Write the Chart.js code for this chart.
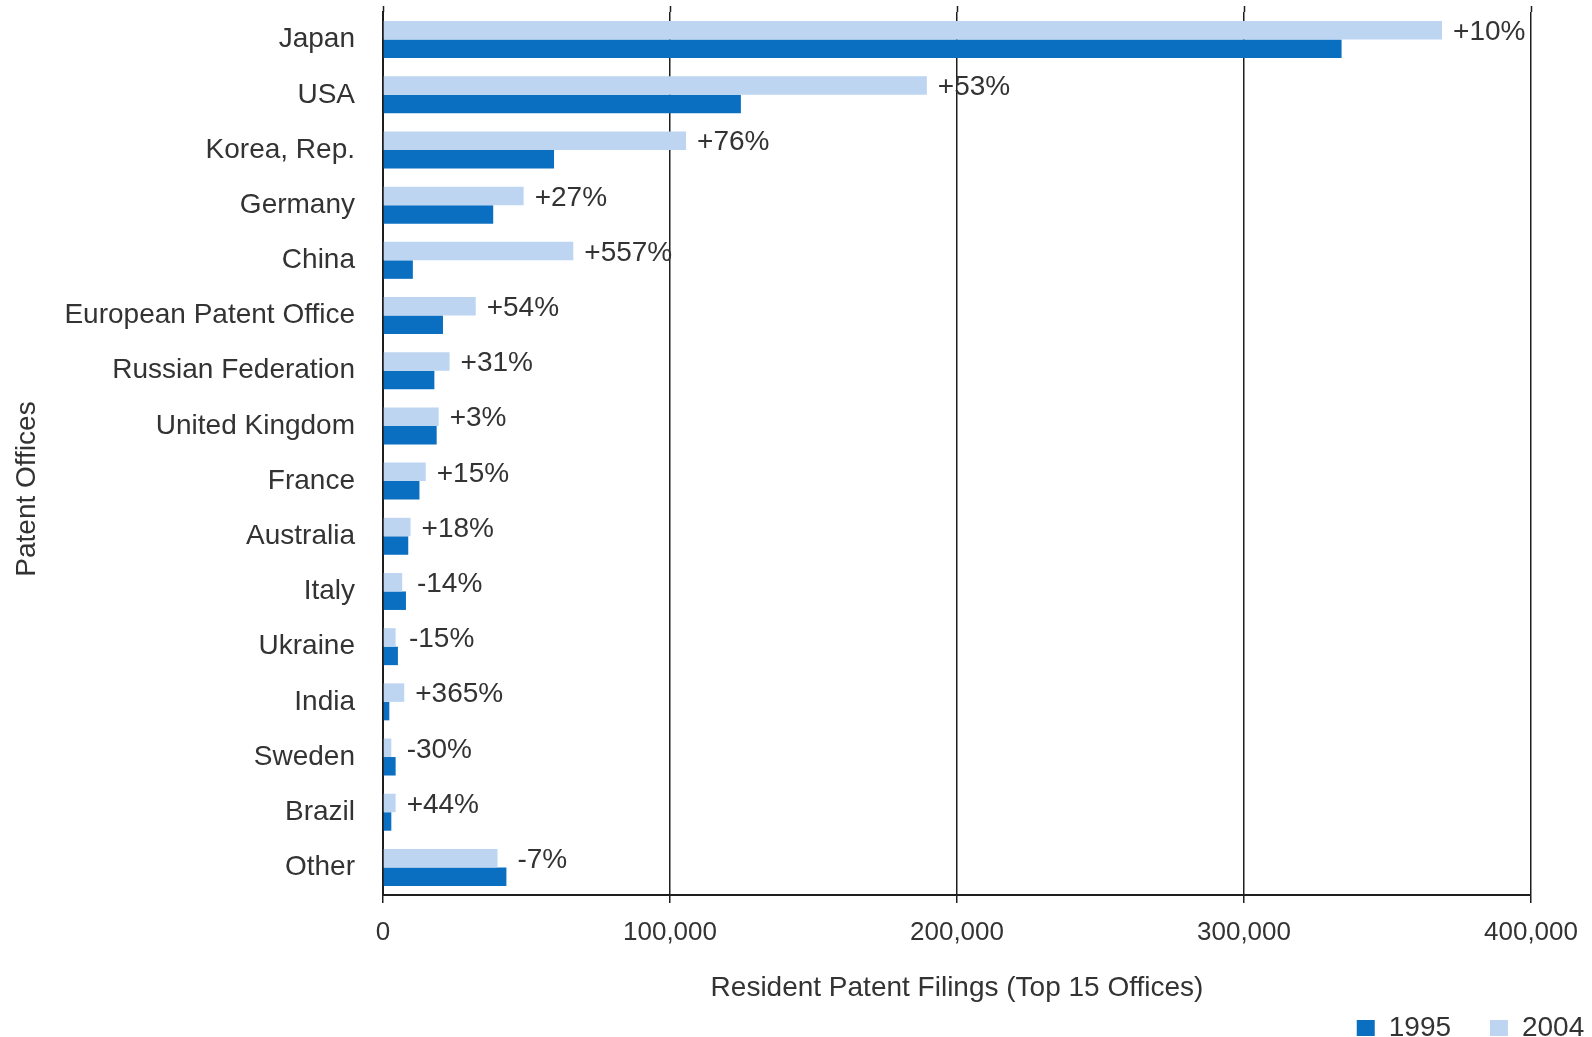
<!DOCTYPE html>
<html lang="en">
<head>
  <meta charset="UTF-8" />
  <title>Resident Patent Filings</title>
  <script src="https://cdn.jsdelivr.net/npm/chart.js"></script>
  <style>
    html, body {
      margin: 0;
      padding: 0;
      background: #ffffff;
    }

    .chart-box {
      width: 1592px;
      height: 1037px;
    }
  </style>
</head>
<body>
  <div class="chart-box">
    <canvas id="patentChart"></canvas>
  </div>

  <script>
    const offices = [
      "Japan", "USA", "Korea, Rep.", "Germany", "China", "European Patent Office",
      "Russian Federation", "United Kingdom", "France", "Australia", "Italy",
      "Ukraine", "India", "Sweden", "Brazil", "Other"
    ];
    const filings2004 = [369000, 189500, 105600, 49000, 66300, 32300, 23200, 19400, 14900, 9600, 6700, 4400, 7400, 2900, 4400, 39900];
    const filings1995 = [334000, 124700, 59600, 38400, 10400, 20900, 17900, 18700, 12700, 8800, 8000, 5200, 2200, 4400, 2900, 43000];
    const changeLabels = ["+10%", "+53%", "+76%", "+27%", "+557%", "+54%", "+31%", "+3%", "+15%", "+18%", "-14%", "-15%", "+365%", "-30%", "+44%", "-7%"];
    const xTicks = [0, 100000, 200000, 300000, 400000];

    const textColor = "#333333";
    const lineColor = "#1e1e1e";
    const fontFamily = "'Liberation Sans', Arial, sans-serif";
    Chart.defaults.font.family = fontFamily;
    Chart.defaults.font.size = 28;
    Chart.defaults.color = textColor;

    // percent change next to each pair of bars, plus y title and grid stubs
    const extrasPlugin = {
      id: "extras",
      afterDatasetsDraw(chart) {
        const ctx = chart.ctx;
        const xs = chart.scales.x;
        const meta = chart.getDatasetMeta(0);
        ctx.save();
        ctx.font = "28px " + fontFamily;
        ctx.fillStyle = textColor;
        ctx.textAlign = "left";
        ctx.textBaseline = "middle";
        meta.data.forEach((bar, i) => {
          const end = Math.max(filings2004[i], filings1995[i]);
          ctx.fillText(changeLabels[i], xs.getPixelForValue(end) + 11, bar.y + 2);
        });

        // gridlines reach a little above the plot
        ctx.strokeStyle = lineColor;
        ctx.lineWidth = 1.5;
        xTicks.forEach(v => {
          const px = Math.round(xs.getPixelForValue(v)) + 0.5;
          ctx.beginPath();
          ctx.moveTo(px, chart.chartArea.top - 6);
          ctx.lineTo(px, chart.chartArea.top);
          ctx.stroke();
        });

        // y axis title
        ctx.translate(27, 489);
        ctx.rotate(-Math.PI / 2);
        ctx.textAlign = "center";
        ctx.fillText("Patent Offices", 0, 0);
        ctx.restore();
      }
    };

    new Chart(document.getElementById("patentChart"), {
      type: "bar",
      data: {
        labels: offices,
        datasets: [
          {
            label: "2004",
            data: filings2004,
            backgroundColor: "#bdd5f1",
            barPercentage: 1,
            categoryPercentage: 0.67
          },
          {
            label: "1995",
            data: filings1995,
            backgroundColor: "#0b6fc1",
            barPercentage: 1,
            categoryPercentage: 0.67
          }
        ]
      },
      options: {
        indexAxis: "y",
        responsive: true,
        maintainAspectRatio: false,
        animation: false,
        layout: {
          padding: { top: 12, right: 0, bottom: -15, left: 0 }
        },
        plugins: {
          tooltip: { enabled: false },
          legend: {
            position: "bottom",
            align: "end",
            reverse: true,
            labels: {
              boxWidth: 18,
              boxHeight: 16,
              padding: 0,
              color: textColor,
              font: { size: 28 },
              generateLabels(chart) {
                const items = Chart.defaults.plugins.legend.labels.generateLabels(chart);
                items.forEach(it => {
                  it.lineWidth = 0;
                  it.text = it.text === "1995" ? "1995     " : "2004 ";
                });
                return items;
              }
            }
          }
        },
        scales: {
          x: {
            min: 0,
            max: 400000,
            afterBuildTicks(scale) {
              scale.ticks = xTicks.map(v => ({ value: v }));
            },
            afterFit(scale) {
              scale.height = 119;
              scale.paddingRight = 61;
            },
            ticks: {
              padding: 14,
              color: textColor,
              font: { size: 26 },
              callback: v => v.toLocaleString("en-US")
            },
            grid: {
              color: lineColor,
              lineWidth: 1.5,
              tickLength: 8,
              drawTicks: true
            },
            border: { color: lineColor, width: 2 },
            title: {
              display: true,
              text: "Resident Patent Filings (Top 15 Offices)",
              color: textColor,
              font: { size: 28 },
              padding: { top: 4, bottom: 9 }
            }
          },
          y: {
            afterFit(scale) {
              scale.width = 383;
              scale.paddingTop = 0;
              scale.paddingBottom = 0;
            },
            ticks: {
              padding: 28,
              color: textColor,
              font: { size: 28 }
            },
            grid: { display: false, drawTicks: false },
            border: { color: lineColor, width: 2 }
          }
        }
      },
      plugins: [extrasPlugin]
    });
  </script>
</body>
</html>
